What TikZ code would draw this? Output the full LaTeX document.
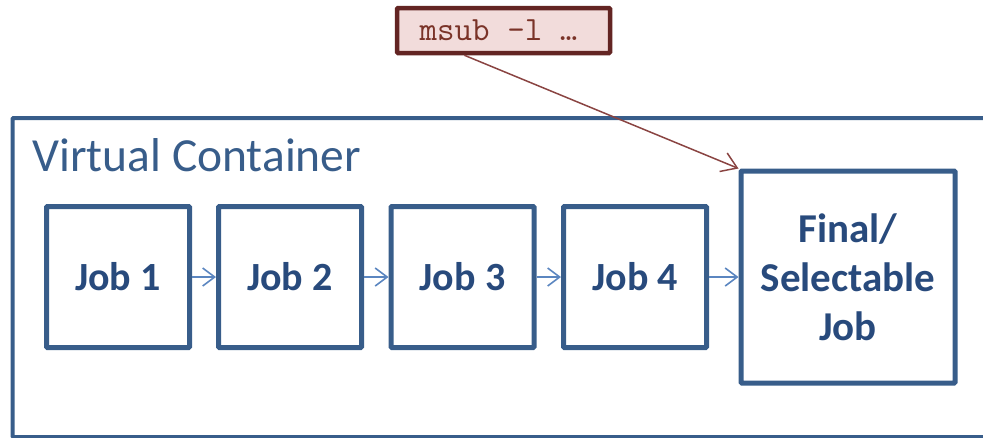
\documentclass[tikz,border=0pt]{standalone}
\usepackage{fontspec}
\setmainfont{Carlito}
\usetikzlibrary{arrows.meta,calc}
\definecolor{boxblue}{HTML}{385D8A}
\definecolor{txtblue}{HTML}{284A7C}
\definecolor{arrblue}{HTML}{5B86C0}
\definecolor{msubfill}{HTML}{F2DCDB}
\definecolor{msubline}{HTML}{632523}
\definecolor{msubtxt}{HTML}{7A3328}
\definecolor{brownarr}{HTML}{8A4442}
\tikzset{
  jobbox/.style={draw=boxblue, line width=5pt, rounded corners=1pt, minimum width=143pt, minimum height=141pt,
    inner sep=0pt, text=txtblue, font=\fontsize{40}{49}\selectfont\bfseries, align=center},
  jobarrow/.style={draw=arrblue, line width=1.6pt, -{Straight Barb[length=12pt,width=18pt,line width=1.6pt]}},
  cmdbox/.style={draw=msubline, fill=msubfill, line width=4.5pt, rounded corners=1pt, minimum width=213pt, minimum height=45pt,
    inner sep=0pt, text=msubtxt, font=\ttfamily\fontsize{34}{38}\selectfont},
  cmdarrow/.style={draw=brownarr, line width=1.5pt, -{Straight Barb[length=15pt,width=20pt,line width=1.5pt]}},
}
\begin{document}
\begin{tikzpicture}[x=1pt,y=-1pt]
\useasboundingbox (0,0) rectangle (983,437);
\begin{scope}
\clip (0,0) rectangle (983,437);
\node[draw=boxblue, line width=4pt, rounded corners=1pt, minimum width=1000pt, minimum height=319pt, inner sep=0pt, anchor=north west] (container) at (10.5,116) {};
\end{scope}
\node[anchor=base west, text=boxblue, font=\fontsize{47.5}{56}\selectfont] (title) at (29,171) {Virtual Container};
\node[jobbox] (j1) at (118,277) {Job 1};
\node[jobbox] (j2) at (290,277) {Job 2};
\node[jobbox] (j3) at (462.5,277) {Job 3};
\node[jobbox] (j4) at (635,277) {Job 4};
\node[jobbox, minimum width=214pt, minimum height=212pt, font=\fontsize{41}{49}\selectfont\bfseries] (final) at (848,277) {Final/\\Selectable\\Job};
\draw[jobarrow] (j1) -- (j2);
\draw[jobarrow] (j2) -- (j3);
\draw[jobarrow] (j3) -- (j4);
\draw[jobarrow] (j4) -- (final.west |- j4);
\node[cmdbox] (msub) at (503.5,30.5) {\hspace*{-10pt}msub -l …};
\coordinate (cmdstart) at ($(msub.south west)!0.32!(msub.south east)$);
\draw[cmdarrow] (cmdstart) -- (final.north west);
\end{tikzpicture}
\end{document}
